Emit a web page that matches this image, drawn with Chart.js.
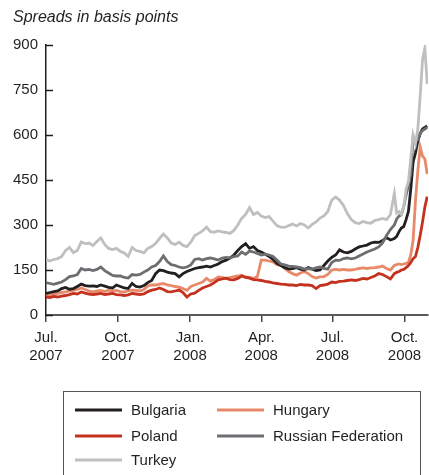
<!DOCTYPE html>
<html>
<head>
<meta charset="utf-8">
<script src="https://cdn.jsdelivr.net/npm/chart.js@4/dist/chart.umd.min.js"></script>
<style>
  html, body { margin: 0; padding: 0; background: #ffffff; }
  #wrap { width: 429px; height: 475px; position: relative; overflow: hidden; }
</style>
</head>
<body>
<div id="wrap"><canvas id="c" width="429" height="475"></canvas></div>
<script>
// ---- Data (days since 1 Jul 2007) ----
const days = [
  0,5,10,15,20,25,30,35,40,45,50,55,60,65,70,75,80,85,90,95,
  100,105,110,115,120,125,130,135,140,145,150,155,160,165,170,175,180,185,190,195,
  200,205,210,215,220,225,230,235,240,245,250,255,260,265,270,275,280,285,290,295,
  300,305,310,315,320,325,330,335,340,345,350,355,360,365,370,375,380,385,390,395,
  400,405,410,415,420,425,430,435,440,445,
  448,451,454,457,460,463,466,469,472,475,478,481,484,487
];

const seriesNames = ["Bulgaria", "Hungary", "Poland", "Russian Federation", "Turkey"];

const bulgaria = [
  72,75,78,80,88,92,86,88,95,103,98,96,97,95,100,96,92,90,100,95,
  90,88,105,95,93,98,108,115,138,150,148,143,140,138,127,138,145,150,155,158,
  160,163,160,165,170,178,183,190,200,215,228,238,222,228,215,210,203,195,185,172,
  165,158,153,155,158,153,150,158,153,148,150,165,180,192,200,217,210,207,212,220,
  227,230,233,240,243,242,248,258,250,255,
  262,278,290,295,318,345,420,510,540,580,605,620,625,630
];
const hungary = [
  68,66,70,72,75,77,80,82,85,90,85,80,77,80,82,78,83,80,82,78,
  77,80,83,82,80,85,97,100,100,103,105,100,98,95,93,88,82,95,100,105,
  110,122,113,118,127,125,122,125,128,130,133,127,125,122,128,183,183,180,177,168,
  165,155,145,138,133,140,145,138,128,123,127,128,135,150,152,150,152,150,150,152,
  155,157,155,157,158,160,163,155,150,165,
  168,170,168,170,172,175,200,250,380,480,560,530,520,470
];
const poland = [
  60,58,62,60,63,65,68,72,70,77,73,70,68,70,72,68,70,72,68,67,
  65,67,72,70,68,70,78,83,85,90,85,78,77,80,83,75,60,70,73,82,
  90,95,100,108,117,120,123,118,117,122,130,125,123,118,117,115,112,110,107,105,
  103,102,100,100,98,102,100,100,98,88,98,100,103,110,108,112,113,115,117,115,
  118,122,120,125,130,138,135,128,120,138,
  142,145,150,152,158,165,175,188,195,225,265,310,360,395
];
const russia = [
  108,105,102,106,110,118,128,130,135,155,150,152,148,152,160,148,140,132,130,130,
  125,123,135,133,135,143,150,160,165,178,197,178,168,165,160,157,160,167,185,188,
  183,188,190,187,183,190,192,190,195,197,210,202,213,210,205,200,203,200,195,183,
  170,167,163,162,160,158,153,155,153,157,160,155,153,175,183,182,188,190,187,190,
  197,203,210,215,220,227,240,265,285,300,
  320,330,335,360,400,430,470,590,580,585,605,615,620,625
];
const turkey = [
  185,180,185,188,195,215,225,208,215,243,238,240,232,245,257,235,222,218,222,212,
  207,195,225,215,212,207,222,228,238,255,270,257,240,235,243,232,228,243,265,272,
  280,293,278,276,280,277,275,272,282,300,322,335,358,335,342,330,325,328,313,298,
  293,292,298,303,297,305,300,290,302,310,323,330,345,383,393,383,365,338,318,308,
  305,312,308,306,315,318,322,318,335,405,
  340,345,335,360,420,445,520,600,570,620,730,850,890,770
];

// ---- Axis ticks ----
const xTickDays = [0, 92, 184, 275, 366, 458];
const xTickLabels = [["Jul.","2007"],["Oct.","2007"],["Jan.","2008"],["Apr.","2008"],["Jul.","2008"],["Oct.","2008"]];
const yTickValues = [0, 150, 300, 450, 600, 750, 900];
const titleText = "Spreads in basis points";

const colors = ["#231f20", "#e8896a", "#c4321f", "#6d6e71", "#bdbfc1"];
const allSeries = [bulgaria, hungary, poland, russia, turkey];

const FONT = "'Liberation Sans', Arial, Helvetica, sans-serif";

const datasets = allSeries.map((vals, k) => ({
  label: seriesNames[k],
  data: days.map((d, i) => ({ x: d, y: vals[i] })),
  borderColor: colors[k],
  backgroundColor: colors[k],
  borderWidth: 2.8,
  pointRadius: 0,
  tension: 0,
  fill: false,
  order: [3, 4, 1, 2, 0][k]
}));

const decor = {
  id: 'decor',
  afterDraw(chart) {
    const ctx = chart.ctx;
    const y = chart.scales.y;
    const area = chart.chartArea;
    ctx.save();
    // title
    ctx.fillStyle = '#231f20';
    ctx.font = "italic 16px " + FONT;
    ctx.textAlign = 'left';
    ctx.textBaseline = 'alphabetic';
    ctx.fillText(titleText, 13, 22);
    // inward y ticks
    ctx.strokeStyle = '#231f20';
    ctx.lineWidth = 1.5;
    yTickValues.forEach(v => {
      const py = Math.round(y.getPixelForValue(v)) + 0.5;
      ctx.beginPath();
      ctx.moveTo(area.left, py);
      ctx.lineTo(area.left + 7, py);
      ctx.stroke();
    });
    // legend box
    ctx.strokeStyle = '#555555';
    ctx.lineWidth = 1;
    ctx.strokeRect(63.5, 391.5, 357, 100);
    const slots = [[75, 410], [217, 410], [75, 436], [217, 436], [75, 460]];
    ctx.font = "15px " + FONT;
    ctx.textBaseline = 'middle';
    chart.data.datasets.forEach((ds, k) => {
      const [sx, sy] = slots[k];
      ctx.strokeStyle = ds.borderColor;
      ctx.lineWidth = 3;
      ctx.beginPath();
      ctx.moveTo(sx, sy);
      ctx.lineTo(sx + 47, sy);
      ctx.stroke();
      ctx.fillStyle = '#231f20';
      ctx.fillText(ds.label, sx + 56, sy + 1);
    });
    ctx.restore();
  }
};

new Chart(document.getElementById('c'), {
  type: 'line',
  data: { datasets },
  options: {
    responsive: false,
    animation: false,
    layout: { padding: { top: 45, left: 0, right: 1, bottom: 0 } },
    plugins: { legend: { display: false }, tooltip: { enabled: false }, title: { display: false } },
    scales: {
      x: {
        type: 'linear',
        min: 0,
        max: 488,
        afterBuildTicks: s => { s.ticks = xTickDays.map(v => ({ value: v })); },
        afterFit: s => { s.height = 160; },
        ticks: {
          autoSkip: false,
          maxRotation: 0,
          padding: 7,
          color: '#231f20',
          font: { family: FONT, size: 15, lineHeight: 1.2 },
          callback: v => xTickLabels[xTickDays.indexOf(v)]
        },
        grid: { display: true, drawOnChartArea: false, drawTicks: true, tickLength: 7, color: '#444444', lineWidth: 1.5 },
        border: { display: true, color: '#5a5a5a', width: 2 }
      },
      y: {
        type: 'linear',
        min: 0,
        max: 900,
        afterBuildTicks: s => { s.ticks = yTickValues.map(v => ({ value: v })); },
        afterFit: s => { s.width = 46; },
        ticks: {
          padding: 8,
          color: '#231f20',
          font: { family: FONT, size: 15 }
        },
        grid: { display: false, drawTicks: false },
        border: { display: true, color: '#231f20', width: 1.5 }
      }
    }
  },
  plugins: [decor]
});
</script>
</body>
</html>
